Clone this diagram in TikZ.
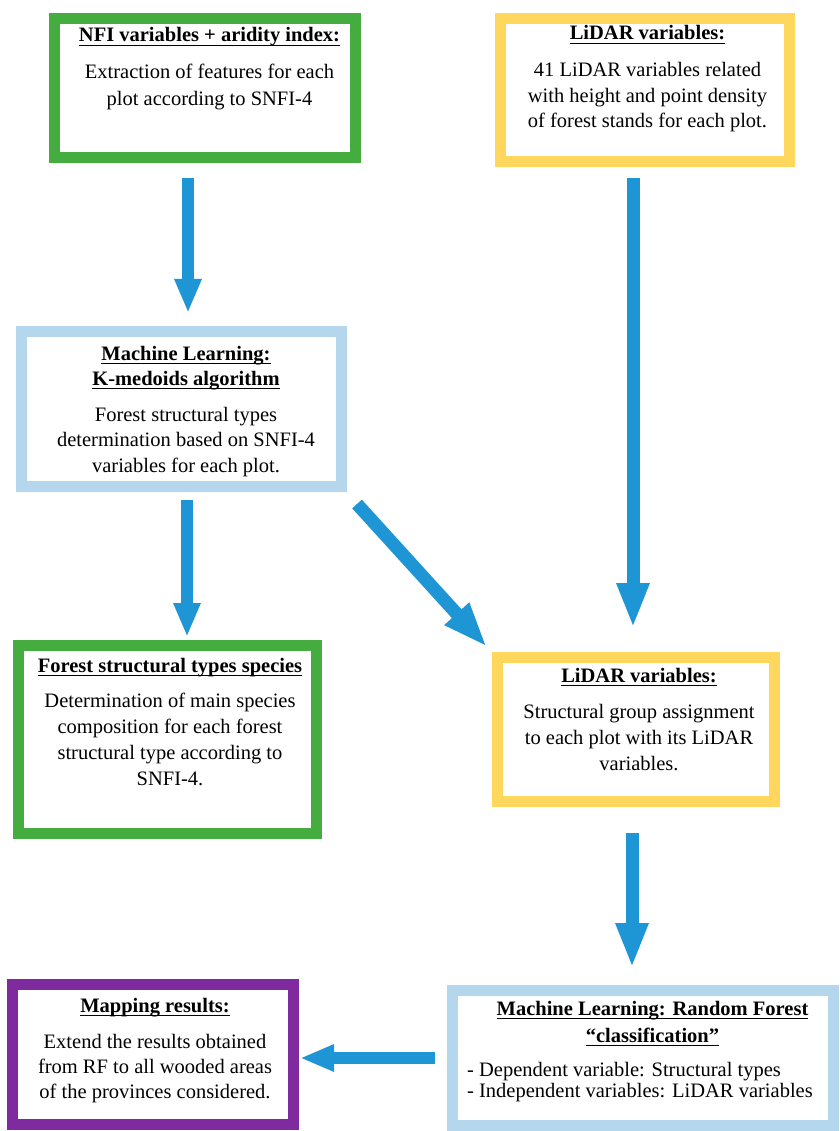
\documentclass[tikz,border=0pt]{standalone}
\usepackage{fontspec}
\setmainfont{Liberation Serif}
\usetikzlibrary{arrows.meta}
\definecolor{cgreen}{HTML}{45AD3F}
\definecolor{cyellow}{HTML}{FFD75C}
\definecolor{cblue}{HTML}{B4D7EE}
\definecolor{cpurple}{HTML}{7F2B9F}
\definecolor{carrow}{HTML}{1E96D6}
\newcommand\ulx[1]{\setbox0\hbox{#1}\rlap{\rule[-4pt]{\wd0}{1.3pt}}\box0}
\begin{document}
\begin{tikzpicture}[x=1pt,y=-1pt,
  box/.style={draw=#1, line width=11pt, inner sep=0pt, fill=white},
  ttl/.style={font=\fontsize{20.5}{25}\selectfont\bfseries, align=center, inner sep=0pt, anchor=base},
  bodytxt/.style={font=\fontsize{20.5}{25.7}\selectfont, align=center, inner sep=0pt, anchor=base},
  arrowbig/.style={draw=carrow, line width=13pt, -{Triangle[width=30pt,length=45pt]}},
  arrowsmall/.style={draw=carrow, line width=12pt, -{Triangle[width=25pt,length=34pt]}}]
\useasboundingbox[fill=white] (0,0) rectangle (839,1131);

% boxes
\node[box=cgreen, minimum width=301pt, minimum height=139pt] (b1) at (205,88) {};
\node[box=cyellow, minimum width=289pt, minimum height=143pt] (b2) at (645,90) {};
\node[box=cblue, minimum width=320pt, minimum height=155pt] (b3) at (181.5,409) {};
\node[box=cgreen, minimum width=298pt, minimum height=188pt] (b4) at (167.5,739.5) {};
\node[box=cyellow, minimum width=277pt, minimum height=144pt] (b5) at (636,729.5) {};
\node[box=cblue, minimum width=381pt, minimum height=135pt] (b6) at (643,1058) {};
\node[box=cpurple, minimum width=281pt, minimum height=140pt] (b7) at (153,1054.5) {};

% texts (multi-line nodes: anchor base = last line's baseline)
\node[ttl] (t1) at (209.5,42) {\ulx{NFI variables + aridity index:}};
\node[bodytxt, font=\fontsize{20.5}{27}\selectfont] (x1) at (209.5,106) {Extraction of features for each\\plot according to SNFI-4};

\node[ttl] (t2) at (647.5,40) {\ulx{LiDAR variables:}};
\node[bodytxt, font=\fontsize{20.5}{25.5}\selectfont] (x2) at (647.5,128) {41 LiDAR variables related\\with height and point density\\of forest stands for each plot.};

\node[ttl] (t3) at (186,385) {\ulx{Machine Learning:}\\\ulx{K-medoids algorithm}};
\node[bodytxt, font=\fontsize{20.5}{25.5}\selectfont] (x3) at (186,472) {Forest structural types\\determination based on SNFI-4\\variables for each plot.};

\node[ttl] (t4) at (170,672) {\ulx{Forest structural types species}};
\node[bodytxt] (x4) at (170,785) {Determination of main species\\composition for each forest\\structural type according to\\SNFI-4.};

\node[ttl] (t5) at (639,682) {\ulx{LiDAR variables:}};
\node[bodytxt, font=\fontsize{20.5}{26}\selectfont] (x5) at (639,770) {Structural group assignment\\to each plot with its LiDAR\\variables.};

\node[ttl] (t6) at (652.5,1042) {\ulx{Machine Learning: Random Forest}\\[2pt]\ulx{“classification”}};
\node[bodytxt, align=left, anchor=base west, font=\fontsize{20.5}{20.5}\selectfont] (x6) at (467,1097) {- Dependent variable: Structural types\\- Independent variables: LiDAR variables};

\node[ttl] (t7) at (155,1012) {\ulx{Mapping results:}};
\node[bodytxt, font=\fontsize{20.5}{25}\selectfont] (x7) at (155,1098) {Extend the results obtained\\from RF to all wooded areas\\of the provinces considered.};

% arrows
\draw[arrowsmall] ([xshift=-17pt,yshift=-15pt]b1.south) -- ([xshift=6.5pt,yshift=13pt]b3.north);
\draw[arrowbig] ([xshift=-12pt,yshift=-11pt]b2.south) -- ([xshift=-3pt,yshift=24pt]b5.north);
\draw[arrowsmall] ([xshift=5.5pt,yshift=-8pt]b3.south) -- ([xshift=19.5pt,yshift=3pt]b4.north);
\draw[arrowbig] ([xshift=10pt,yshift=-12pt]b3.south east) -- ([xshift=-5pt,yshift=5pt]b5.north west);
\draw[arrowbig] ([xshift=-4pt,yshift=-26pt]b5.south) -- ([xshift=-11pt,yshift=17pt]b6.north);
\draw[arrowsmall] ([xshift=-12pt]b6.west) -- ([xshift=1pt,yshift=-3.5pt]b7.east);
\end{tikzpicture}
\end{document}
